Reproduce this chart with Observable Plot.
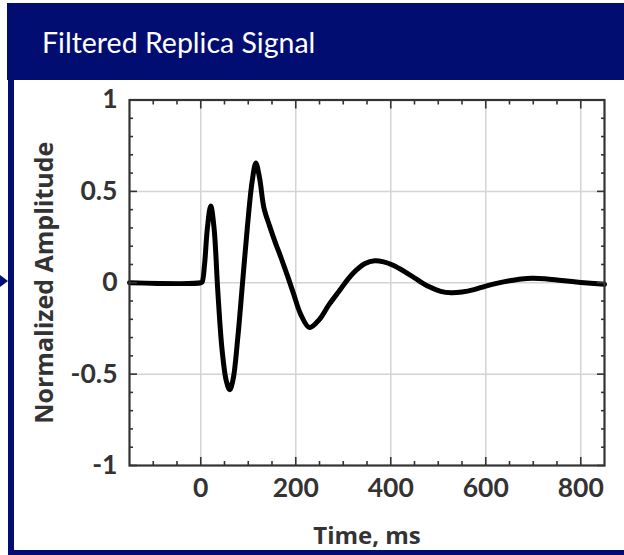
<!DOCTYPE html>
<html>
<head>
<meta charset="utf-8">
<script src="https://cdn.jsdelivr.net/npm/d3@7"></script>
<script src="https://cdn.jsdelivr.net/npm/@observablehq/plot@0.6"></script>
<style>
  html, body { margin: 0; padding: 0; background: #fff; }
  #page { position: relative; width: 624px; height: 555px; overflow: hidden; background: #fff; }
  #titlebar { position: absolute; left: 7px; top: 3px; width: 617px; height: 77px; background: #020d72; }
  #title { position: absolute; left: 42px; top: 28px; color: #fff; font-family: Lato, sans-serif; font-size: 28.5px; line-height: 1; white-space: nowrap; }
  #leftbar { position: absolute; left: 8px; top: 80px; width: 6px; height: 475px; background: #020d72; z-index: 2; }
  #bottombar { position: absolute; left: 8px; top: 550px; width: 616px; height: 5px; background: #020d72; z-index: 2; }
  #pointer { position: absolute; left: 0; top: 275px; width: 0; height: 0; border-top: 6px solid transparent; border-bottom: 6px solid transparent; border-left: 8px solid #020d72; z-index: 2; }
  #chart { position: absolute; left: 0; top: 80px; z-index: 1; }
</style>
</head>
<body>
<div id="page">
  <div id="titlebar"></div>
  <div id="title">Filtered Replica Signal</div>
  <div id="leftbar"></div>
  <div id="bottombar"></div>
  <div id="pointer"></div>
  <div id="chart"></div>
</div>
<script>
// Filtered replica waveform: time (ms) and normalized amplitude
const timeMs = [-150, 0, 3, 8, 14, 21, 28, 36, 45, 54, 61, 68, 78, 88, 98, 108, 116, 124, 133, 145, 157, 170, 183, 196, 210, 229, 250, 270, 293, 310, 328, 346, 366, 385, 405, 430, 455, 480, 505, 527, 550, 575, 600, 625, 650, 675, 698, 725, 760, 800, 850];
const amplitude = [0, 0, 0.005, 0.1, 0.3, 0.42, 0.3, -0.05, -0.37, -0.54, -0.585, -0.53, -0.3, 0.0, 0.3, 0.55, 0.655, 0.57, 0.41, 0.31, 0.22, 0.13, 0.035, -0.065, -0.17, -0.245, -0.2, -0.12, -0.04, 0.02, 0.07, 0.105, 0.12, 0.114, 0.096, 0.06, 0.018, -0.021, -0.047, -0.055, -0.051, -0.038, -0.018, -0.002, 0.011, 0.021, 0.025, 0.022, 0.012, 0.002, -0.008];

// Axis ticks
const xMajorTicks = [0, 200, 400, 600, 800];
const xMinorTicks = [-100, -50, 50, 100, 150, 250, 300, 350, 450, 500, 550, 650, 700, 750];
const yMajorTicks = [-1, -0.5, 0, 0.5, 1];
const yMinorTicks = [-0.9, -0.8, -0.7, -0.6, -0.4, -0.3, -0.2, -0.1, 0.1, 0.2, 0.3, 0.4, 0.6, 0.7, 0.8, 0.9];
const yGridLines = [-0.5, 0, 0.5];
const yTickLabels = ["-1", "-0.5", "0", "0.5", "1"];

const signal = timeMs.map((t, i) => ({t, a: amplitude[i]}));
const axisColor = "#333";
const fmtY = (d) => yTickLabels[yMajorTicks.indexOf(d)];
const blank = () => "";

const chart = Plot.plot({
  width: 624,
  height: 470,
  marginLeft: 129,
  marginRight: 20,
  marginTop: 19.5,
  marginBottom: 85,
  style: {background: "transparent", fontFamily: "Lato, sans-serif", fontWeight: "bold", color: axisColor},
  x: {domain: [-150, 850]},
  y: {domain: [-1, 1]},
  marks: [
    Plot.gridX(xMajorTicks, {stroke: "#d4d4d4", strokeOpacity: 1, strokeWidth: 1.5}),
    Plot.gridY(yGridLines, {stroke: "#d4d4d4", strokeOpacity: 1, strokeWidth: 1.5}),
    Plot.line(signal, {x: "t", y: "a", curve: "catmull-rom", stroke: "#000", strokeWidth: 5, strokeLinejoin: "round"}),
    // inward ticks on all four sides
    Plot.axisX({anchor: "bottom", ticks: xMajorTicks, tickSize: -8, tickFormat: blank, label: null, stroke: axisColor, strokeWidth: 1.6}),
    Plot.axisX({anchor: "bottom", ticks: xMinorTicks, tickSize: -4, tickFormat: blank, label: null, stroke: axisColor, strokeWidth: 1.6}),
    Plot.axisX({anchor: "top", ticks: xMajorTicks, tickSize: -8, tickFormat: blank, label: null, stroke: axisColor, strokeWidth: 1.6}),
    Plot.axisX({anchor: "top", ticks: xMinorTicks, tickSize: -4, tickFormat: blank, label: null, stroke: axisColor, strokeWidth: 1.6}),
    Plot.axisY({anchor: "left", ticks: yMajorTicks, tickSize: -8, tickFormat: blank, label: null, stroke: axisColor, strokeWidth: 1.6}),
    Plot.axisY({anchor: "left", ticks: yMinorTicks, tickSize: -4, tickFormat: blank, label: null, stroke: axisColor, strokeWidth: 1.6}),
    Plot.axisY({anchor: "right", ticks: yMajorTicks, tickSize: -8, tickFormat: blank, label: null, stroke: axisColor, strokeWidth: 1.6}),
    Plot.axisY({anchor: "right", ticks: yMinorTicks, tickSize: -4, tickFormat: blank, label: null, stroke: axisColor, strokeWidth: 1.6}),
    // tick labels
    Plot.axisX({anchor: "bottom", ticks: xMajorTicks, tickSize: 0, tickPadding: 13, fontSize: 26.5, tickFormat: (d) => String(d), label: null, fill: axisColor}),
    Plot.axisY({anchor: "left", ticks: yMajorTicks, tickSize: 0, tickPadding: 12, fontSize: 26.5, tickFormat: fmtY, label: null, fill: axisColor}),
    // axis titles
    Plot.axisX({anchor: "bottom", ticks: [], tickSize: 0, fontSize: 24, fontFamily: "'Open Sans', sans-serif", fontWeight: "bold",
      label: "Time, ms", labelAnchor: "center", labelArrow: "none", labelOffset: 78, fill: axisColor}),
    Plot.axisY({anchor: "left", ticks: [], tickSize: 0, fontSize: 25, fontFamily: "'Open Sans', sans-serif", fontWeight: "bold",
      label: "Normalized Amplitude", labelAnchor: "center", labelArrow: "none", labelOffset: 94, fill: axisColor}),
    Plot.frame({stroke: axisColor, strokeWidth: 2.2})
  ]
});
document.getElementById("chart").appendChild(chart);
</script>
</body>
</html>
